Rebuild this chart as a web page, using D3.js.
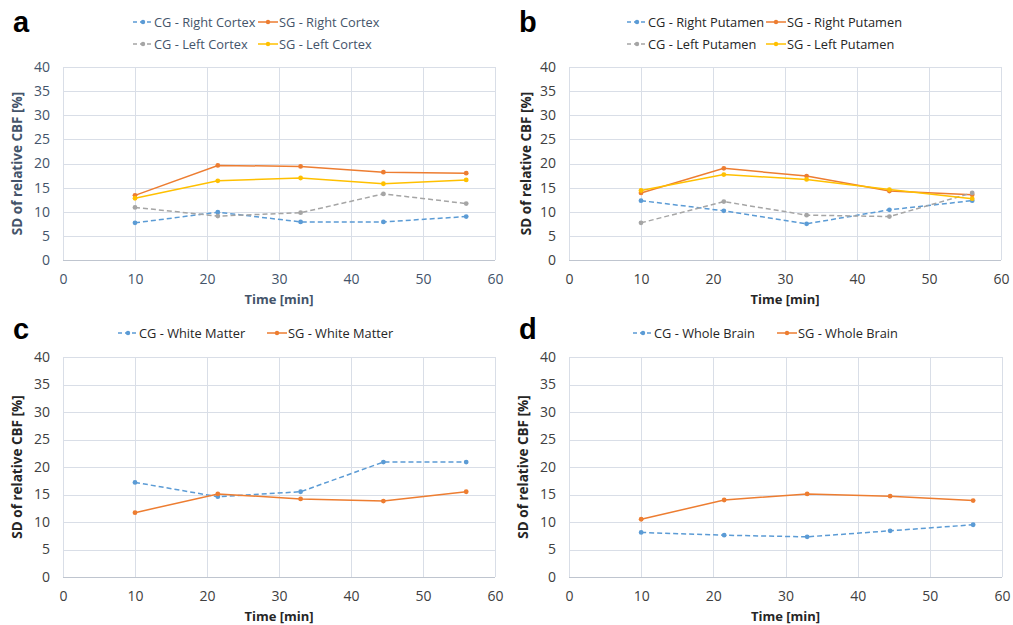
<!DOCTYPE html>
<html><head><meta charset="utf-8">
<script src="https://cdn.jsdelivr.net/npm/d3@7"></script>
<style>
html,body{margin:0;padding:0;background:#fff;}
svg{display:block;font-family:"Open Sans","Noto Sans",sans-serif;}
</style></head>
<body><svg id="chart" width="1013" height="625"></svg>
<script>
// ---- data ----
const times = [10, 21.5, 33, 44.5, 56];
const xTicks = [0, 10, 20, 30, 40, 50, 60];
const yTicks = [0, 5, 10, 15, 20, 25, 30, 35, 40];

const cgRightCortex = [7.7, 9.9, 7.9, 7.9, 9.0];
const sgRightCortex = [13.4, 19.6, 19.4, 18.2, 18.0];
const cgLeftCortex  = [10.9, 9.1, 9.8, 13.7, 11.7];
const sgLeftCortex  = [12.8, 16.4, 17.0, 15.8, 16.6];

const cgRightPutamen = [12.3, 10.2, 7.5, 10.4, 12.3];
const sgRightPutamen = [13.9, 19.0, 17.4, 14.3, 13.5];
const cgLeftPutamen  = [7.7, 12.1, 9.3, 9.0, 13.9];
const sgLeftPutamen  = [14.4, 17.7, 16.7, 14.6, 12.7];

const cgWhiteMatter = [17.2, 14.6, 15.5, 20.9, 20.9];
const sgWhiteMatter = [11.7, 15.1, 14.2, 13.8, 15.5];

const cgWholeBrain = [8.1, 7.6, 7.3, 8.4, 9.5];
const sgWholeBrain = [10.5, 14.0, 15.1, 14.7, 13.9];

const xTitle = "Time [min]";
const yTitle = "SD of relative CBF [%]";

// ---- styles ----
const C = {blue:"#5B9BD5", orange:"#ED7D31", gray:"#A5A5A5", yellow:"#FFC000"};

const panels = [
  {letter:"a", L:63, R:495, T:67, B:260, textColor:"#44546A", yTitleX:18, letterX:13, letterY:32,
   legendRows:[22,44], legendCols:[133,258],
   series:[
     {name:"CG - Right Cortex", values:cgRightCortex, color:C.blue, dash:true, col:0, row:0},
     {name:"SG - Right Cortex", values:sgRightCortex, color:C.orange, dash:false, col:1, row:0},
     {name:"CG - Left Cortex", values:cgLeftCortex, color:C.gray, dash:true, col:0, row:1},
     {name:"SG - Left Cortex", values:sgLeftCortex, color:C.yellow, dash:false, col:1, row:1}]},
  {letter:"b", L:569, R:1001, T:67, B:260, textColor:"#262626", yTitleX:527, letterX:519, letterY:32,
   legendRows:[22,44], legendCols:[627,766],
   series:[
     {name:"CG - Right Putamen", values:cgRightPutamen, color:C.blue, dash:true, col:0, row:0},
     {name:"SG - Right Putamen", values:sgRightPutamen, color:C.orange, dash:false, col:1, row:0},
     {name:"CG - Left Putamen", values:cgLeftPutamen, color:C.gray, dash:true, col:0, row:1},
     {name:"SG - Left Putamen", values:sgLeftPutamen, color:C.yellow, dash:false, col:1, row:1}]},
  {letter:"c", L:63, R:495, T:357, B:577, textColor:"#262626", yTitleX:18, letterX:13, letterY:339,
   legendRows:[333], legendCols:[118,267],
   series:[
     {name:"CG - White Matter", values:cgWhiteMatter, color:C.blue, dash:true, col:0, row:0},
     {name:"SG - White Matter", values:sgWhiteMatter, color:C.orange, dash:false, col:1, row:0}]},
  {letter:"d", L:569, R:1002, T:357, B:577, textColor:"#262626", yTitleX:524, letterX:519, letterY:339,
   legendRows:[333], legendCols:[633,777],
   series:[
     {name:"CG - Whole Brain", values:cgWholeBrain, color:C.blue, dash:true, col:0, row:0},
     {name:"SG - Whole Brain", values:sgWholeBrain, color:C.orange, dash:false, col:1, row:0}]}
];

const svg = d3.select("#chart");
const gridColor = "#D9DEE7";

panels.forEach(p => {
  const g = svg.append("g");
  const x = d3.scaleLinear().domain([0, 60]).range([p.L, p.R]);
  const y = d3.scaleLinear().domain([0, 40]).range([p.B, p.T]);
  const tickColor = p.textColor === "#44546A" ? "#44546A" : "#404040";

  // gridlines
  g.append("g").selectAll("line.h").data(yTicks).join("line")
    .attr("x1", p.L).attr("x2", p.R)
    .attr("y1", d => Math.round(y(d)) + 0.5).attr("y2", d => Math.round(y(d)) + 0.5)
    .attr("stroke", d => d === 0 ? "#BFC5CF" : gridColor).attr("stroke-width", 1);
  g.append("g").selectAll("line.v").data(xTicks).join("line")
    .attr("y1", p.T).attr("y2", p.B)
    .attr("x1", d => Math.round(x(d)) + 0.5).attr("x2", d => Math.round(x(d)) + 0.5)
    .attr("stroke", gridColor).attr("stroke-width", 1);

  // axes labels via d3 axes
  const xAxis = g.append("g").attr("transform", `translate(0,${p.B})`)
    .call(d3.axisBottom(x).tickValues(xTicks).tickSize(0).tickPadding(14).tickFormat(d3.format("d")));
  xAxis.select(".domain").remove();
  xAxis.selectAll("text").attr("font-size", 14).attr("fill", tickColor)
    .attr("font-family", "'Open Sans',sans-serif");

  const yAxis = g.append("g").attr("transform", `translate(${p.L},0)`)
    .call(d3.axisLeft(y).tickValues(yTicks).tickSize(0).tickPadding(13).tickFormat(d3.format("d")));
  yAxis.select(".domain").remove();
  yAxis.selectAll("text").attr("font-size", 14).attr("fill", tickColor)
    .attr("font-family", "'Open Sans',sans-serif");

  // axis titles
  g.append("text").attr("x", (p.L + p.R) / 2).attr("y", p.B + 44)
    .attr("text-anchor", "middle").attr("font-size", 13).attr("font-weight", "bold")
    .attr("fill", p.textColor).text(xTitle);
  g.append("text").attr("transform", `translate(${p.yTitleX + 4},${(p.T + p.B) / 2}) rotate(-90)`)
    .attr("text-anchor", "middle").attr("font-size", 13.5).attr("font-weight", "bold")
    .attr("fill", p.textColor).text(yTitle);

  // panel letter
  g.append("text").attr("x", p.letterX).attr("y", p.letterY)
    .attr("font-family", "'Liberation Sans',Arial,sans-serif").attr("font-weight", "bold")
    .attr("font-size", 29).attr("fill", "#000").text(p.letter);

  // series
  const line = d3.line().x((d, i) => x(times[i])).y(d => y(d));
  p.series.forEach(s => {
    g.append("path").datum(s.values).attr("d", line)
      .attr("fill", "none").attr("stroke", s.color).attr("stroke-width", 1.5)
      .attr("stroke-dasharray", s.dash ? "5,3" : null);
    g.append("g").selectAll("circle").data(s.values).join("circle")
      .attr("cx", (d, i) => x(times[i])).attr("cy", d => y(d)).attr("r", 2.4)
      .attr("fill", s.color);

    // legend
    const lx = p.legendCols[s.col], ly = p.legendRows[s.row];
    g.append("line").attr("x1", lx).attr("x2", lx + 20).attr("y1", ly).attr("y2", ly)
      .attr("stroke", s.color).attr("stroke-width", 1.5)
      .attr("stroke-dasharray", s.dash ? "4,3" : null);
    g.append("circle").attr("cx", lx + 10).attr("cy", ly).attr("r", 2.2).attr("fill", s.color);
    g.append("text").attr("x", lx + 21).attr("y", ly + 5)
      .attr("font-size", 12.8).attr("fill", p.textColor === "#44546A" ? "#44546A" : "#262626")
      .text(s.name);
  });
});
</script>
</body></html>
